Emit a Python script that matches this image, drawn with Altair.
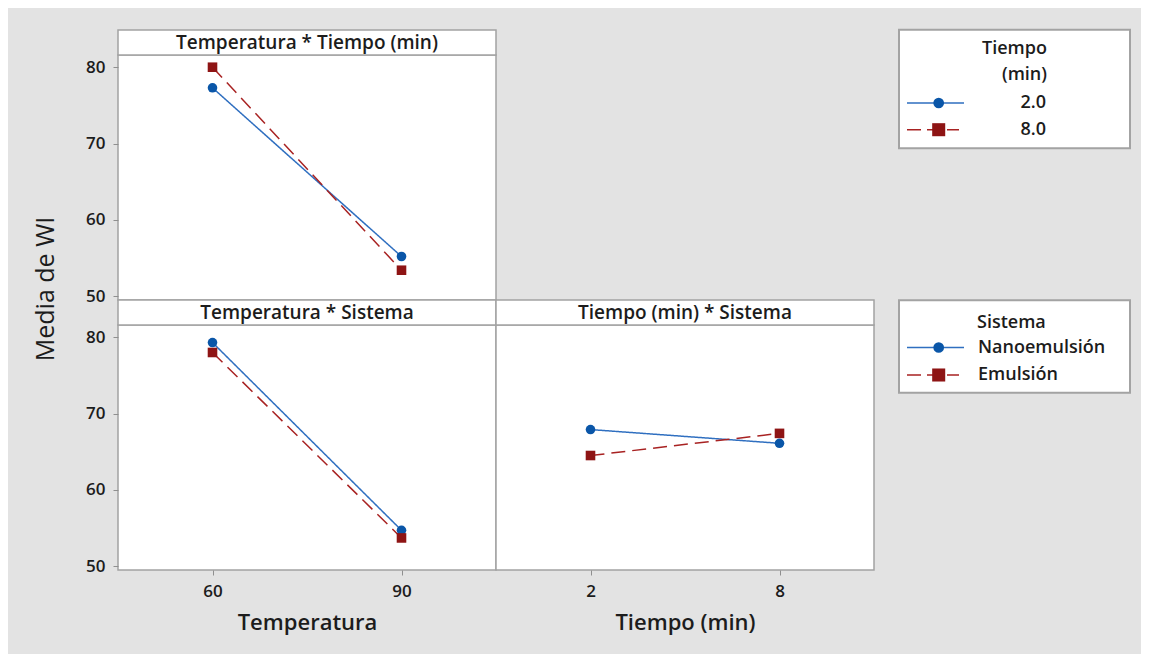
import altair as alt
import pandas as pd

# ---------------- data ----------------
temperatura = [60, 90]
tiempo = [2, 8]
tiempo_labels = ["2.0", "8.0"]
sistemas = ["Nanoemulsión", "Emulsión"]

# Temperatura * Tiempo (min)
tt_tiempo2 = [77.3, 55.2]
tt_tiempo8 = [80.0, 53.4]
# Temperatura * Sistema
ts_nano = [79.3, 54.7]
ts_emul = [78.0, 53.7]
# Tiempo (min) * Sistema
tis_nano = [67.9, 66.1]
tis_emul = [64.5, 67.4]

y_ticks = [50, 60, 70, 80]
strip_titles = ["Temperatura * Tiempo (min)", "Temperatura * Sistema", "Tiempo (min) * Sistema"]
x_titles = ["Temperatura", "Tiempo (min)"]
y_title = "Media de WI"

# ---------------- style ----------------
FONT = "Open Sans"
TXT = "#1c1c1c"
BG = "#e3e3e3"
BORDER = "#a3a3a3"
BLUE_MK = "#0a56a8"
BLUE_LN = "#2f6fc0"
RED_MK = "#8e1414"
RED_LN = "#a82222"
PW, PH = 378, 245
Y_DOM = [49.5, 81.6]
DASH = [14, 7]


def panel_df(xvals, groups, series):
    rows = []
    for g, vals in zip(groups, series):
        for xv, yv in zip(xvals, vals):
            rows.append({"x": xv, "y": yv, "g": g})
    return pd.DataFrame(rows)


def strip(title):
    df = pd.DataFrame({"t": [title]})
    rect = alt.Chart(df).mark_rect(fill="white", stroke=BORDER, strokeWidth=1.5).encode(
        x=alt.value(0), x2=alt.value(PW), y=alt.value(-25), y2=alt.value(0)
    )
    txt = alt.Chart(df).mark_text(
        font=FONT, fontSize=19, fontWeight=600, color=TXT, align="center", baseline="middle"
    ).encode(text="t:N", x=alt.value(PW / 2), y=alt.value(-12.5))
    return [rect, txt]


def panel(df, groups, xdom, xticks, title, xaxis_title=None, show_x=True, show_y=True, extra=()):
    if show_x:
        xaxis = alt.Axis(values=xticks, title=xaxis_title, labelPadding=8, titlePadding=13,
                         labelFontSize=17, titleFontSize=22)
    else:
        xaxis = None
    yaxis = alt.Axis(values=y_ticks, title=None, labelPadding=8, labelFontSize=17) if show_y else None
    x = alt.X("x:Q", scale=alt.Scale(domain=xdom, nice=False, zero=False), axis=xaxis)
    y = alt.Y("y:Q", scale=alt.Scale(domain=Y_DOM, nice=False, zero=False), axis=yaxis)
    base = alt.Chart(df)
    line = base.mark_line(strokeWidth=1.5).encode(
        x=x, y=y,
        stroke=alt.Stroke("g:N", scale=alt.Scale(domain=groups, range=[BLUE_LN, RED_LN]), legend=None),
        strokeDash=alt.StrokeDash("g:N", scale=alt.Scale(domain=groups, range=[[1, 0], DASH]), legend=None),
    )
    pts = base.mark_point(filled=True, opacity=1).encode(
        x=x, y=y,
        fill=alt.Fill("g:N", scale=alt.Scale(domain=groups, range=[BLUE_MK, RED_MK]), legend=None),
        shape=alt.Shape("g:N", scale=alt.Scale(domain=groups, range=["circle", "square"]), legend=None),
        size=alt.Size("g:N", scale=alt.Scale(domain=groups, range=[92, 92]), legend=None),
    )
    layers = strip(title) + [line, pts] + list(extra)
    return alt.layer(*layers).properties(
        width=PW, height=PH, view=alt.ViewBackground(fill="white", stroke=BORDER, strokeWidth=1.5)
    )


anchor_df = pd.DataFrame({"a": [0]})

# y title + top-left anchor (defines left/top edge of the page background)
ytitle = alt.Chart(pd.DataFrame({"t": [y_title]})).mark_text(
    font=FONT, fontSize=25, fontWeight=500, color=TXT, angle=270, align="center", baseline="middle"
).encode(text="t:N", x=alt.value(-72), y=alt.value(234))
anchor_tl = alt.Chart(anchor_df).mark_rule(strokeWidth=1, opacity=0).encode(
    x=alt.value(-108.5), x2=alt.value(-107.5), y=alt.value(-45.5)
)
anchor_b = alt.Chart(anchor_df).mark_rule(strokeWidth=1, opacity=0).encode(
    x=alt.value(0), x2=alt.value(1), y=alt.value(327.5)
)

g_tiempo = tiempo_labels
df_tt = panel_df(temperatura, g_tiempo, [tt_tiempo2, tt_tiempo8])
df_ts = panel_df(temperatura, sistemas, [ts_nano, ts_emul])
df_tis = panel_df(tiempo, sistemas, [tis_nano, tis_emul])

tt = panel(df_tt, g_tiempo, [45, 105], temperatura, strip_titles[0], show_x=False,
           extra=(ytitle, anchor_tl))
ts = panel(df_ts, sistemas, [45, 105], temperatura, strip_titles[1], xaxis_title=x_titles[0],
           extra=(anchor_b,))
tis = panel(df_tis, sistemas, [-1, 11], tiempo, strip_titles[2], xaxis_title=x_titles[1], show_y=False)


# ---------------- custom legends (placed in the empty top-right cell) ----------------
def legend_layers(box_y0, box_y1, title_lines, title_ys, title_x, title_align,
                  labels, row_ys, label_x, label_align):
    df = pd.DataFrame({"t": [title_lines[0]]})
    out = [alt.Chart(df).mark_rect(fill="white", stroke=BORDER, strokeWidth=2).encode(
        x=alt.value(403), x2=alt.value(634), y=alt.value(box_y0), y2=alt.value(box_y1))]
    for tl, ty in zip(title_lines, title_ys):
        out.append(alt.Chart(pd.DataFrame({"t": [tl]})).mark_text(
            font=FONT, fontSize=18, fontWeight=600, color=TXT, align=title_align, baseline="middle"
        ).encode(text="t:N", x=alt.value(title_x), y=alt.value(ty)))
    cols_ln = [BLUE_LN, RED_LN]
    cols_mk = [BLUE_MK, RED_MK]
    shapes = ["circle", "square"]
    sizes = [115, 170]
    ends = [468, 463]
    dashes = [[1, 0], [14, 6]]
    for i, (lab, ry) in enumerate(zip(labels, row_ys)):
        ldf = pd.DataFrame({"t": [lab]})
        out.append(alt.Chart(ldf).mark_rule(color=cols_ln[i], strokeWidth=1.5, strokeDash=dashes[i]).encode(
            x=alt.value(411), x2=alt.value(ends[i]), y=alt.value(ry)))
        out.append(alt.Chart(ldf).mark_point(filled=True, opacity=1, color=cols_mk[i], shape=shapes[i],
                                             size=sizes[i]).encode(x=alt.value(442.7), y=alt.value(ry)))
        out.append(alt.Chart(ldf).mark_text(
            font=FONT, fontSize=18, fontWeight=600, color=TXT, align=label_align, baseline="middle"
        ).encode(text="t:N", x=alt.value(label_x), y=alt.value(ry)))
    return out


leg1 = legend_layers(-25.3, 93.3, ["Tiempo", "(min)"], [-6.3, 19.5], 551, "right",
                     tiempo_labels, [48, 74.7], 550, "right")
leg2 = legend_layers(245.3, 337.7, ["Sistema"], [267.7], 481, "left",
                     sistemas, [292.5, 320], 482, "left")
anchor_r = alt.Chart(anchor_df).mark_rule(strokeWidth=1, opacity=0).encode(
    x=alt.value(643.5), x2=alt.value(644.5), y=alt.value(0)
)
legend_cell = alt.layer(*(leg1 + leg2 + [anchor_r])).properties(
    width=PW, height=PH, view=alt.ViewBackground(fill="transparent", stroke="transparent")
)

chart = alt.concat(
    tt, legend_cell, ts, tis,
    columns=2, spacing={"row": 25, "column": 0}, bounds="flush"
).resolve_scale(
    x="independent", y="independent", stroke="independent", fill="independent",
    shape="independent", strokeDash="independent", size="independent"
).properties(
    padding=0, background=BG
).configure_axis(
    labelFont=FONT, labelFontWeight=600, labelColor=TXT, labelFontSize=17,
    titleFont=FONT, titleFontWeight=600, titleColor=TXT,
    tickColor="#8f8f8f", tickSize=5, tickWidth=1, domain=False, grid=False
)

chart.save("out.html", embed_options={"renderer": "svg", "actions": False})
